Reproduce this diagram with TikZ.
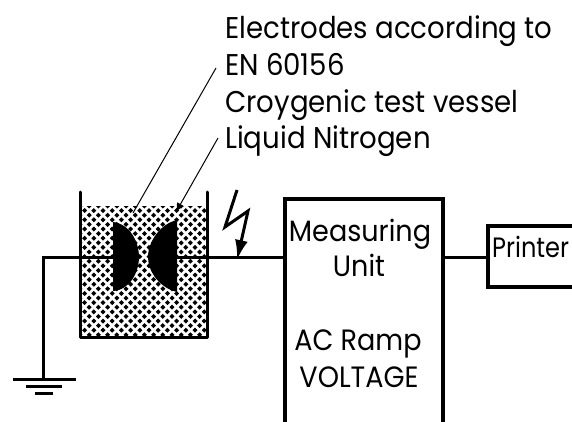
\documentclass[tikz,border=0pt]{standalone}
\usepackage{fontspec}
\setmainfont[FakeStretch=0.92]{Poppins}
\newfontfamily\prfont[FakeStretch=0.86]{Poppins}
\usetikzlibrary{arrows.meta,calc}
\tikzset{
  wire/.style={line width=3pt,line cap=round},
  boxy/.style={draw,line width=3.4pt,rectangle,inner sep=0pt,outer sep=0pt},
  leader/.style={line width=1pt},
  lab/.style={font=\fontsize{30}{30}\selectfont,inner sep=0pt,anchor=base west},
  inlab/.style={font=\fontsize{29.4}{30}\selectfont,inner sep=0pt,anchor=base},
  gnd/.style={line width=3pt}
}
\begin{document}
\begin{tikzpicture}[x=1pt,y=-1pt]
\useasboundingbox (0,0) rectangle (572,422);
\clip (0,0) rectangle (572,422);
% liquid
\begin{scope}
  \clip (82,206) rectangle (206,337);
  \foreach \i in {0,...,14}{\foreach \j in {0,...,29}{
    \pgfmathsetmacro{\cx}{80+\i*9.2+mod(\j,2)*4.6}
    \pgfmathsetmacro{\cy}{206+\j*4.6}
    \fill (\cx-2.5,\cy) -- (\cx,\cy-2.5) -- (\cx+2.5,\cy) -- (\cx,\cy+2.5) -- cycle;
  }}
\end{scope}
% vessel
\coordinate (vtl) at (80,192);
\coordinate (vtr) at (207,192);
\coordinate (vbl) at (80,337);
\coordinate (vbr) at (207,337);
\draw[wire,line join=round] (vtl) -- (vbl) -- (vbr) -- (vtr);
% electrodes
\coordinate (el) at (113,257);
\coordinate (er) at (177,257);
\fill (113,222) .. controls (130,224) and (139,242) .. (139,257) .. controls (139,272) and (130,290) .. (113,291) -- cycle;
\fill (177,220) .. controls (160,224) and (148,242) .. (148,257) .. controls (148,272) and (160,288) .. (177,292) -- cycle;
% boxes
\node[boxy,minimum width=158pt,minimum height=260pt] (meas) at (364,329) {};
\node[boxy,minimum width=160pt,minimum height=61pt] (print) at (568,256.5) {};
% ground
\coordinate (gt) at (43,257);
\coordinate (g0) at (43,379);
\coordinate (vl) at (80,257);
\coordinate (vr) at (207,257);
\draw[wire] (el) -- (vl) -- (gt) -- (g0);
\draw[wire] (er) -- (vr) -- (meas.west |- vr);
\draw[wire] (meas.east |- vr) -- (print.west |- vr);
\draw[gnd] (13,379) -- (76,379);
\draw[gnd] (26,386.5) -- (62,386.5);
\draw[gnd] (35,393.5) -- (53,393.5);
% leaders
\coordinate (l1) at (216,68);
\coordinate (l1e) at (133,213);
\coordinate (l2) at (218,138);
\coordinate (l2e) at (176,212);
\draw[leader] (l1) -- (l1e);
\draw[leader,-{Latex[length=9pt,width=8pt]}] (l2) -- (l2e);
% lightning
\coordinate (z0) at (237,190);
\coordinate (z1) at (225,227);
\coordinate (z2) at (248,211);
\coordinate (z3) at (237,260);
\draw[line width=3pt,line join=miter,-{Latex[length=20pt,width=13pt]}] (z0) -- (z1) -- (z2) -- (z3);
% labels
\node[lab] (t1) at (225,39) {Electrodes according to};
\node[lab] (t2) at (225,76) {EN 60156};
\node[lab] (t3) at (225,113) {Croygenic test vessel};
\node[lab] (t4) at (225,149) {Liquid Nitrogen};
\node[inlab] (m1) at (360,241) {Measuring};
\node[inlab] (m2) at (359,276) {Unit};
\node[inlab] (m3) at (358,350) {AC Ramp};
\node[inlab] (m4) at (359,387) {VOLTAGE};
\node[lab,font=\prfont\fontsize{28}{28}\selectfont] (p) at (492,257) {Printer};
\end{tikzpicture}
\end{document}
